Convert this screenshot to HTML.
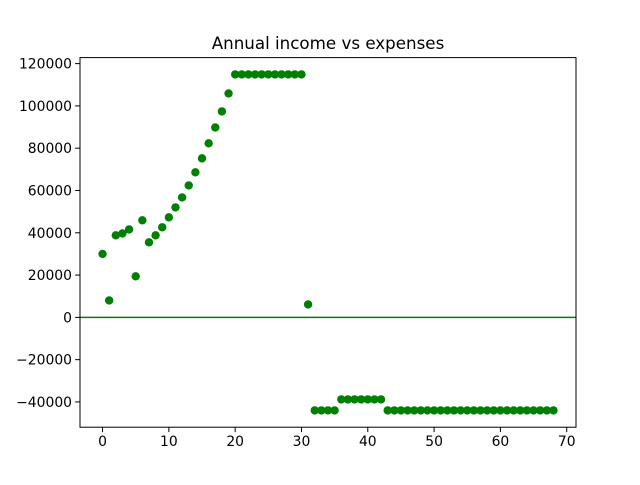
<!DOCTYPE html>
<html><head><meta charset="utf-8"><style>
body{margin:0;background:#fff;}
svg text{font-family:"DejaVu Sans","Liberation Sans",sans-serif;}
</style></head><body>
<svg id="chart" width="640" height="480" xmlns="http://www.w3.org/2000/svg">
<rect width="640" height="480" fill="#fff"/>
<text x="328" y="49" font-size="16.7" text-anchor="middle">Annual income vs expenses</text>
<g id="marks"></g>
<rect x="80" y="57.6" width="496" height="369.6" fill="none" stroke="#000" stroke-width="1"/>
<g id="axes"></g>
</svg>
<script>
const xValues = Array.from({length:69},(_,i)=>i);
const yValues = [30000,8000,38800,39700,41600,19400,45900,35500,38800,42600,47300,52000,56700,62400,68600,75200,82300,89800,97400,105900,
114900,114900,114900,114900,114900,114900,114900,114900,114900,114900,114900,
6100,-44000,-44000,-44000,-44000,
-38800,-38800,-38800,-38800,-38800,-38800,-38800,
-44000,-44000,-44000,-44000,-44000,-44000,-44000,-44000,-44000,-44000,-44000,-44000,-44000,-44000,-44000,-44000,-44000,-44000,-44000,-44000,-44000,-44000,-44000,-44000,-44000,-44000];
const xTicks = [0,10,20,30,40,50,60,70];
const yTicks = [-40000,-20000,0,20000,40000,60000,80000,100000,120000];
const xMin=-3.4, xMax=71.4, yMin=-51945, yMax=122845;
const L=80,R=576,T=57.6,B=427.2;
const sx=v=>L+(v-xMin)/(xMax-xMin)*(R-L);
const sy=v=>B-(v-yMin)/(yMax-yMin)*(B-T);
const NS="http://www.w3.org/2000/svg";
const marks=document.getElementById('marks');
const axes=document.getElementById('axes');
const zl=document.createElementNS(NS,'line');
zl.setAttribute('x1',L);zl.setAttribute('x2',R);zl.setAttribute('y1',sy(0));zl.setAttribute('y2',sy(0));
zl.setAttribute('stroke','#008000');zl.setAttribute('stroke-width','1.5');


marks.appendChild(zl);
xValues.forEach((x,i)=>{
  const c=document.createElementNS(NS,'circle');
  c.setAttribute('cx',sx(x));c.setAttribute('cy',sy(yValues[i]));c.setAttribute('r','4.2');c.setAttribute('fill','#008000');
  
  
  marks.appendChild(c);
});
xTicks.forEach(t=>{
  const x=sx(t);
  const l=document.createElementNS(NS,'line');
  l.setAttribute('x1',x);l.setAttribute('x2',x);l.setAttribute('y1',B);l.setAttribute('y2',B+4.9);l.setAttribute('stroke','#000');
  
  
  axes.appendChild(l);
  const tx=document.createElementNS(NS,'text');
  tx.setAttribute('x',x);tx.setAttribute('y',B+19);tx.setAttribute('font-size','13.9');tx.setAttribute('text-anchor','middle');
  tx.textContent=t;
  
  
  axes.appendChild(tx);
});
yTicks.forEach(t=>{
  const y=sy(t);
  const l=document.createElementNS(NS,'line');
  l.setAttribute('x1',L-4.9);l.setAttribute('x2',L);l.setAttribute('y1',y);l.setAttribute('y2',y);l.setAttribute('stroke','#000');
  
  
  axes.appendChild(l);
  const tx=document.createElementNS(NS,'text');
  tx.setAttribute('x',L-8);tx.setAttribute('y',y+5);tx.setAttribute('font-size','13.9');tx.setAttribute('text-anchor','end');
  tx.textContent=t<0?'\u2212'+Math.abs(t):t;
  
  
  axes.appendChild(tx);
});
</script>
</body></html>
